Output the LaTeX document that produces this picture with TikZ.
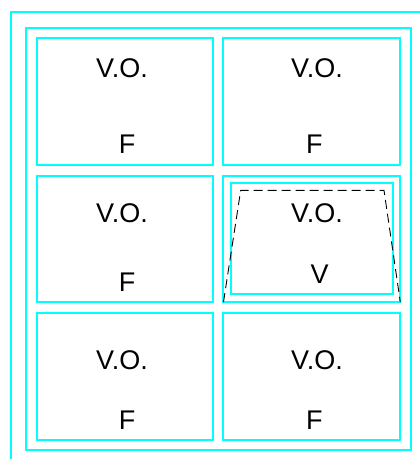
\documentclass[tikz,border=0pt]{standalone}
\usepackage{fontspec}
\setmainfont{Liberation Sans}
\definecolor{aqua}{RGB}{0,255,255}
\begin{document}
\begin{tikzpicture}[x=1pt,y=-1pt,
  frame/.style={draw=aqua,line width=1.6pt},
  lbl/.style={anchor=base,inner sep=0pt,font=\fontsize{27}{30}\selectfont},
  trap/.style={draw=black,line width=0.9pt,dash pattern=on 9pt off 5pt}]
\useasboundingbox (0,0) rectangle (420,459);
% outer open frame
\draw[frame] (11,459) -- (11,12) -- (420,12);
% second frame
\draw[frame] (26,28) rectangle (411,450);
% cells
\draw[frame] (37,38) rectangle (213,165);
\draw[frame] (223,38) rectangle (400,165);
\draw[frame] (37,176) rectangle (213,302);
\draw[black,line width=0.6pt] (223.5,301.3) -- (400,301.3);
\draw[frame] (223,176) rectangle (400,302);
\draw[frame] (37,313) rectangle (213,440);
\draw[frame] (223,313) rectangle (400,440);
% inner cell
\draw[frame] (231,183) rectangle (393,294);
% dashed trapezoid
\draw[trap] (223.5,302) -- (240.7,190.3) -- (384,190.3) -- (400.3,302);
% labels
\node[lbl] (vo11) at (122,77.3) {V.O.};
\node[lbl] (f11) at (127,153.3) {F};
\node[lbl] (vo12) at (317,77.3) {V.O.};
\node[lbl] (f12) at (314.3,153.3) {F};
\node[lbl] (vo21) at (122,222.7) {V.O.};
\node[lbl] (f21) at (127,291.7) {F};
\node[lbl] (vo22) at (317,222.7) {V.O.};
\node[lbl] (v22) at (319.7,283.3) {V};
\node[lbl] (vo31) at (122,369) {V.O.};
\node[lbl] (f31) at (127,429) {F};
\node[lbl] (vo32) at (317,369) {V.O.};
\node[lbl] (f32) at (314.3,429) {F};
\end{tikzpicture}
\end{document}
